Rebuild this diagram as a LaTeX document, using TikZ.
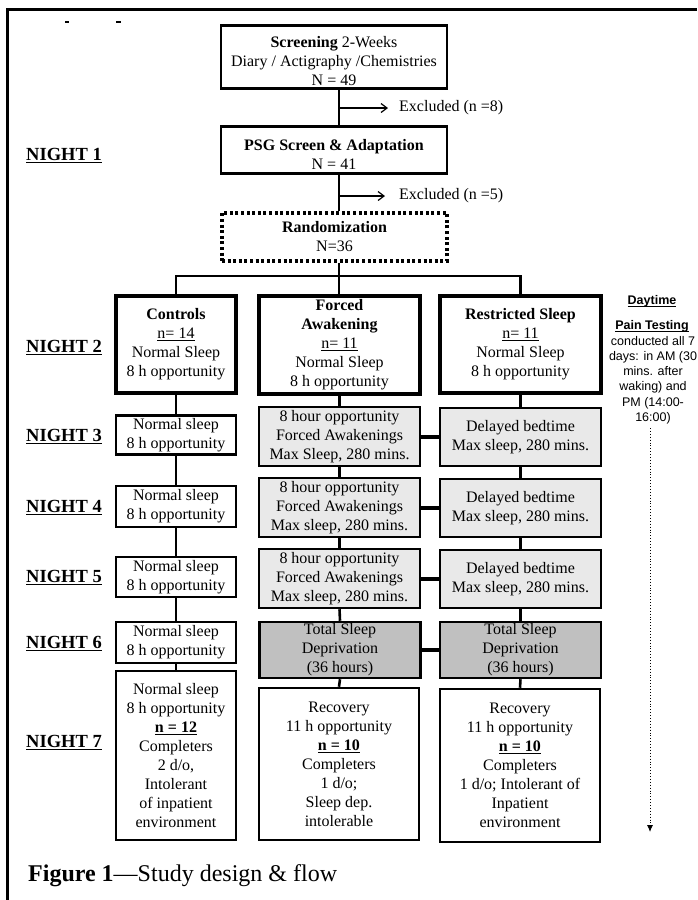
\documentclass[tikz,border=0pt]{standalone}
\usepackage{fontspec}
\setmainfont{Liberation Serif}
\newfontfamily\arialfont{Liberation Sans}
\usetikzlibrary{arrows.meta}
\definecolor{lightg}{HTML}{E9E9E9}
\definecolor{darkg}{HTML}{C0C0C0}
\newcommand\myul[1]{\setbox0\hbox{#1}\leavevmode\rlap{\rule[-2.6pt]{\wd0}{1.2pt}}\box0}
\newcommand\lowerby[1]{\rule{0pt}{#1}}
\tikzset{
  box/.style={draw, line width=2.5pt, align=center, inner sep=0pt,
    font=\fontsize{16}{19}\selectfont},
  topbox/.style={box, minimum width=226pt},
  grpbox/.style={box, line width=4pt, minimum width=161pt},
  cbox/.style={box, minimum width=120pt},
  wbox/.style={box, minimum width=161pt},
  lbox/.style={wbox, fill=lightg},
  dbox/.style={wbox, fill=darkg},
  conn/.style={line width=2.6pt},
  link/.style={line width=4pt},
  night/.style={anchor=west, inner sep=0pt, font=\fontsize{18.5}{22}\selectfont\bfseries},
  exlabel/.style={anchor=west, inner sep=0pt, font=\fontsize{16}{19}\selectfont},
  exarrow/.style={line width=1.2pt, -{Straight Barb[length=6pt,width=9pt]}},
  day/.style={align=center, inner sep=0pt, font=\arialfont\fontsize{12.5}{15.2}\selectfont}
}
\begin{document}
\begin{tikzpicture}[x=1pt,y=-1pt]
\useasboundingbox (0,0) rectangle (697,900);
% frame
\coordinate (fbl) at (7,900);
\coordinate (ftl) at (7,9);
\coordinate (ftr) at (697,9);
\draw[line width=3pt] (fbl) -- (ftl) -- (ftr);
\draw[line width=1.5pt] (65,22) -- (69,22);
\draw[line width=1.5pt] (116,22) -- (121,22);

% top flow
\node[topbox, minimum height=63pt] (scr) at (334,57)
  {\lowerby{20pt}\textbf{Screening} 2-Weeks\\Diary / Actigraphy /Chemistries\\N = 49};
\node[topbox, minimum height=47pt] (psg) at (334,150)
  {\lowerby{20pt}\textbf{PSG Screen \& Adaptation}\\N = 41};
\node[box, line width=3.5pt, dash pattern=on 3pt off 2.6pt, minimum width=225pt, minimum height=48pt] (rand) at (334.5,237)
  {\textbf{Randomization}\\N=36};

\coordinate (mx) at (339,0);
\coordinate (e1) at (339,108);
\coordinate (e2) at (339,196);
\coordinate (bar) at (339,276);
\node[exlabel] (ex1) at (399,108) {Excluded (n =8)};
\node[exlabel] (ex2) at (399,196) {Excluded (n =5)};
\draw[conn] (scr.south -| mx) -- (psg.north -| mx);
\draw[conn] (psg.south -| mx) -- (rand.north -| mx);
\draw[exarrow] (e1) -- ([xshift=-11pt]ex1.west);
\draw[exarrow] (e2) -- ([xshift=-14pt]ex2.west);

% night labels
\node[night] (n1) at (26,156) {\myul{NIGHT 1}};
\node[night] (n2) at (26,348) {\myul{NIGHT 2}};
\node[night] (n3) at (26,437) {\myul{NIGHT 3}};
\node[night] (n4) at (26,508) {\myul{NIGHT 4}};
\node[night] (n5) at (26,578) {\myul{NIGHT 5}};
\node[night] (n6) at (26,644) {\myul{NIGHT 6}};
\node[night] (n7) at (26,743) {\myul{NIGHT 7}};

% night 2
\node[grpbox, minimum width=120pt, minimum height=97pt] (c2) at (176,344.5)
  {\textbf{Controls}\\\myul{n= 14}\\Normal Sleep\\8 h opportunity};
\node[grpbox, minimum height=98pt] (f2) at (339.5,345)
  {\textbf{Forced}\\\textbf{Awakening}\\\myul{n= 11}\\Normal Sleep\\8 h opportunity};
\node[grpbox, minimum height=97pt] (r2) at (520.5,344.5)
  {\textbf{Restricted Sleep}\\\myul{n= 11}\\Normal Sleep\\8 h opportunity};
\draw[conn] (rand.south -| bar) -- (bar);
\draw[conn] (c2.north) |- (r2.north |- bar) -- (r2.north);
\draw[conn] (bar) -- (f2.north -| bar);

% night 3
\node[cbox, minimum height=39pt] (c3) at (176,435) {Normal sleep\\8 h opportunity};
\node[lbox, minimum height=59pt] (f3) at (339.5,436.5) {8 hour opportunity\\Forced Awakenings\\Max Sleep, 280 mins.};
\node[lbox, minimum height=58pt] (r3) at (520.5,437) {Delayed bedtime\\Max sleep, 280 mins.};
% night 4
\node[cbox, minimum height=41pt] (c4) at (176,506.5) {Normal sleep\\8 h opportunity};
\node[lbox, minimum height=59pt] (f4) at (339.5,507.5) {8 hour opportunity\\Forced Awakenings\\Max sleep, 280 mins.};
\node[lbox, minimum height=58pt] (r4) at (520.5,508) {Delayed bedtime\\Max sleep, 280 mins.};
% night 5
\node[cbox, minimum height=40pt] (c5) at (176,577) {Normal sleep\\8 h opportunity};
\node[lbox, minimum height=59pt] (f5) at (339.5,578.5) {8 hour opportunity\\Forced Awakenings\\Max sleep, 280 mins.};
\node[lbox, minimum height=58pt] (r5) at (520.5,579) {Delayed bedtime\\Max sleep, 280 mins.};
% night 6
\node[cbox, minimum height=41pt] (c6) at (176,642.5) {Normal sleep\\8 h opportunity};
\node[dbox, minimum height=56pt] (f6) at (340,650) {Total Sleep\\Deprivation\\(36 hours)};
\node[dbox, minimum height=56pt] (r6) at (520.5,650) {Total Sleep\\Deprivation\\(36 hours)};
% night 7
\node[cbox, minimum height=169pt] (c7) at (176,755.5)
  {Normal sleep\\8 h opportunity\\\myul{\textbf{n = 12}}\\Completers\\2 d/o,\\Intolerant\\of inpatient\\environment};
\node[box, minimum width=160pt, minimum height=152pt] (f7) at (339,764)
  {Recovery\\11 h opportunity\\\myul{\textbf{n = 10}}\\Completers\\1 d/o;\\Sleep dep.\\intolerable};
\node[box, minimum width=160pt, minimum height=153pt] (r7) at (520,765.5)
  {Recovery\\11 h opportunity\\\myul{\textbf{n = 10}}\\Completers\\1 d/o; Intolerant of\\Inpatient\\environment};

% vertical connectors
\foreach \a/\b in {c2/c3,c3/c4,c4/c5,c5/c6,c6/c7,f2/f3,f3/f4,f4/f5,f5/f6,f6/f7,r2/r3,r3/r4,r4/r5,r5/r6,r6/r7}
  \draw[conn] (\a.south) -- (\b.north);
% horizontal links
\draw[link] (f3.east) -- (f3.east -| r3.west);
\draw[link] (f4.east) -- (f4.east -| r4.west);
\draw[link] (f5.east) -- (f5.east -| r5.west);
\draw[link] (f6.east) -- (f6.east -| r6.west);

% daytime column
\node[day] (dt) at (652,301) {\textbf{\myul{Daytime}}};
\node[day] (pt) at (652,326) {\textbf{\myul{Pain Testing}}};
\node[day] (pd) at (653,380) {conducted all 7\\days: in AM (30\\mins. after\\waking) and\\PM (14:00-\\16:00)};
\coordinate (dtop) at (650,428);
\coordinate (dbot) at (650,832);
\draw[dotted, line width=0.9pt, -{Latex[length=7pt,width=6pt]}] (dtop) -- (dbot);

% caption
\node[anchor=west, inner sep=0pt, font=\fontsize{24}{28}\selectfont] (cap) at (28,876)
  {\textbf{Figure 1}---Study design \& flow};
\end{tikzpicture}
\end{document}
